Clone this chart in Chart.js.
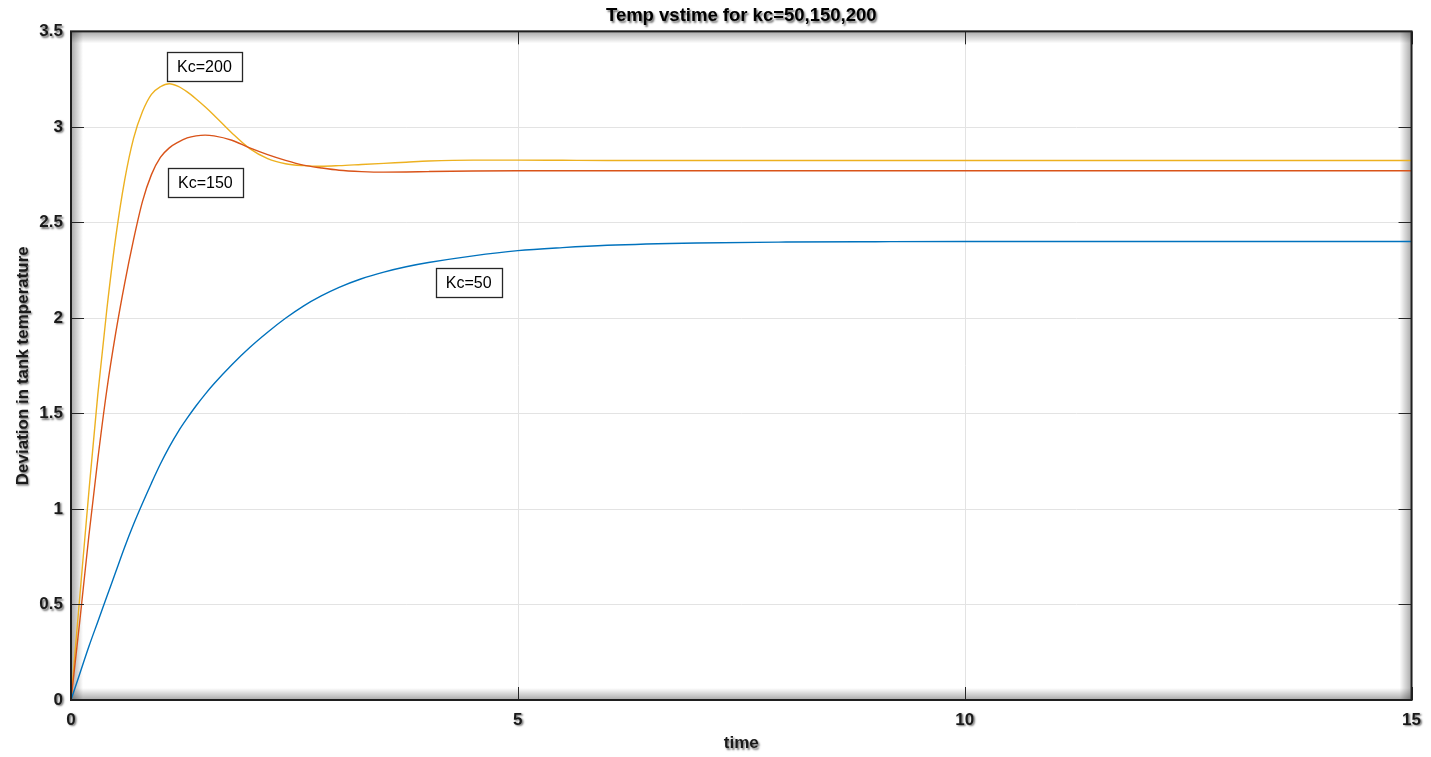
<!DOCTYPE html>
<html>
<head>
<meta charset="utf-8">
<script src="https://cdn.jsdelivr.net/npm/chart.js@4/dist/chart.umd.min.js"></script>
<style>
  html, body { margin: 0; padding: 0; background: #fff; }
  #wrap { width: 1431px; height: 757px; position: relative; }
</style>
</head>
<body>
<div id="wrap"><canvas id="c" width="1431" height="757"></canvas></div>
<script>
// ---- data ----
const times = [0, 0.1, 0.2, 0.3, 0.4, 0.5, 0.6, 0.7, 0.8, 0.9, 1.0, 1.1, 1.2, 1.3, 1.4, 1.5, 1.6, 1.8, 2.0, 2.2, 2.4, 2.6, 2.8, 3.0, 3.25, 3.5, 3.75, 4.0, 4.5, 5, 5.5, 6, 7, 8, 9, 10, 12, 15];
const kc50  = [0, 0.14, 0.28, 0.41, 0.54, 0.67, 0.80, 0.92, 1.03, 1.135, 1.235, 1.325, 1.405, 1.475, 1.54, 1.60, 1.655, 1.755, 1.845, 1.925, 1.998, 2.062, 2.115, 2.16, 2.205, 2.24, 2.268, 2.29, 2.325, 2.352, 2.368, 2.38, 2.392, 2.397, 2.399, 2.40, 2.40, 2.40];
const kc150 = [0, 0.42, 0.86, 1.26, 1.62, 1.92, 2.18, 2.41, 2.61, 2.75, 2.84, 2.89, 2.92, 2.942, 2.953, 2.957, 2.953, 2.93, 2.89, 2.855, 2.825, 2.80, 2.785, 2.773, 2.766, 2.763, 2.764, 2.766, 2.769, 2.770, 2.770, 2.770, 2.770, 2.770, 2.770, 2.770, 2.770, 2.770];
const kc200 = [0, 0.55, 1.09, 1.60, 2.04, 2.42, 2.72, 2.94, 3.08, 3.17, 3.21, 3.226, 3.212, 3.183, 3.146, 3.105, 3.061, 2.968, 2.886, 2.834, 2.807, 2.797, 2.794, 2.797, 2.803, 2.809, 2.815, 2.821, 2.826, 2.826, 2.825, 2.824, 2.824, 2.824, 2.824, 2.824, 2.824, 2.824];
const seriesNames = ['Kc=50', 'Kc=150', 'Kc=200'];
const xTicks = [0, 5, 10, 15];
const yTicks = [0, 0.5, 1, 1.5, 2, 2.5, 3, 3.5];
const yTickLabels = ['0', '0.5', '1', '1.5', '2', '2.5', '3', '3.5'];
const titleText = 'Temp vstime for kc=50,150,200';
const xTitle = 'time';
const yTitle = 'Deviation in tank temperature';
// text annotations: label, x value, y value (box centre)
const noteText = ['Kc=200', 'Kc=150', 'Kc=50'];
const noteX = [1.493, 1.504, 4.45];
const noteY = [3.314, 2.710, 2.183];

const colors = ['#0072BD', '#D95319', '#EDB120'];
const FONT = '"Liberation Sans", Arial, Helvetica, sans-serif';

const toXY = arr => times.map((t, i) => ({ x: t, y: arr[i] }));

const look = {
  id: 'look',
  beforeDraw(chart) {
    const ctx = chart.ctx;
    ctx.save();
    ctx.fillStyle = '#fff';
    ctx.fillRect(0, 0, chart.width, chart.height);
    ctx.restore();
    ctx.shadowColor = 'rgba(0,0,0,0.55)';
    ctx.shadowBlur = 2;
    ctx.shadowOffsetX = 1.5;
    ctx.shadowOffsetY = 1.5;
  },
  beforeDatasetsDraw(chart) {
    const ctx = chart.ctx;
    ctx.shadowColor = 'rgba(0,0,0,0)';
    ctx.shadowBlur = 0; ctx.shadowOffsetX = 0; ctx.shadowOffsetY = 0;
    const a = chart.chartArea;
    const xs = chart.scales.x, ys = chart.scales.y;
    ctx.save();
    // inner shadow
    const d = 12, c0 = 'rgba(0,0,0,0.34)', c1 = 'rgba(0,0,0,0)';
    let g;
    g = ctx.createLinearGradient(a.left, 0, a.left + d, 0); g.addColorStop(0, c0); g.addColorStop(1, c1);
    ctx.fillStyle = g; ctx.fillRect(a.left, a.top, d, a.bottom - a.top);
    g = ctx.createLinearGradient(a.right, 0, a.right - d, 0); g.addColorStop(0, c0); g.addColorStop(1, c1);
    ctx.fillStyle = g; ctx.fillRect(a.right - d, a.top, d, a.bottom - a.top);
    g = ctx.createLinearGradient(0, a.top, 0, a.top + d); g.addColorStop(0, c0); g.addColorStop(1, c1);
    ctx.fillStyle = g; ctx.fillRect(a.left, a.top, a.right - a.left, d);
    g = ctx.createLinearGradient(0, a.bottom, 0, a.bottom - d); g.addColorStop(0, c0); g.addColorStop(1, c1);
    ctx.fillStyle = g; ctx.fillRect(a.left, a.bottom - d, a.right - a.left, d);
    // grid
    ctx.strokeStyle = '#e3e3e3';
    ctx.lineWidth = 1;
    ctx.beginPath();
    yTicks.forEach(v => {
      const y = Math.round(ys.getPixelForValue(v)) + 0.5;
      if (v > ys.min && v < ys.max) { ctx.moveTo(a.left, y); ctx.lineTo(a.right, y); }
    });
    xTicks.forEach(v => {
      const x = Math.round(xs.getPixelForValue(v)) + 0.5;
      if (v > xs.min && v < xs.max) { ctx.moveTo(x, a.top); ctx.lineTo(x, a.bottom); }
    });
    ctx.stroke();
    ctx.restore();
  },
  afterDatasetsDraw(chart) {
    const ctx = chart.ctx;
    const a = chart.chartArea;
    const xs = chart.scales.x, ys = chart.scales.y;
    ctx.save();
    ctx.shadowColor = 'rgba(0,0,0,0)';
    // inward ticks
    const tl = 13;
    ctx.strokeStyle = '#262626';
    ctx.lineWidth = 1;
    ctx.beginPath();
    yTicks.forEach(v => {
      const y = Math.round(ys.getPixelForValue(v)) + 0.5;
      ctx.moveTo(a.left, y); ctx.lineTo(a.left + tl, y);
      ctx.moveTo(a.right, y); ctx.lineTo(a.right - tl, y);
    });
    xTicks.forEach(v => {
      const x = Math.round(xs.getPixelForValue(v)) + 0.5;
      ctx.moveTo(x, a.bottom); ctx.lineTo(x, a.bottom - tl);
      ctx.moveTo(x, a.top); ctx.lineTo(x, a.top + tl);
    });
    ctx.stroke();
    // frame
    ctx.lineWidth = 2;
    ctx.strokeStyle = '#1f1f1f';
    ctx.strokeRect(a.left, a.top, a.right - a.left, a.bottom - a.top);
    // annotations
    ctx.font = '16px ' + FONT;
    ctx.textAlign = 'center';
    ctx.textBaseline = 'middle';
    noteText.forEach((t, i) => {
      const cx = xs.getPixelForValue(noteX[i]);
      const cy = ys.getPixelForValue(noteY[i]);
      const w = ctx.measureText(t).width + 20;
      const h = 29;
      ctx.fillStyle = '#fff';
      ctx.fillRect(cx - w / 2, cy - h / 2, w, h);
      ctx.strokeStyle = '#262626';
      ctx.lineWidth = 1.3;
      ctx.strokeRect(Math.round(cx - w / 2) + 0.5, Math.round(cy - h / 2) + 0.5, Math.round(w), h);
      ctx.fillStyle = '#000';
      ctx.fillText(t, cx, cy + 1);
    });
    ctx.restore();
  }
};

new Chart(document.getElementById('c'), {
  type: 'line',
  data: {
    datasets: [kc50, kc150, kc200].map((arr, i) => ({
      label: seriesNames[i],
      data: toXY(arr),
      borderColor: colors[i],
      backgroundColor: colors[i],
      borderWidth: 1.4,
      pointRadius: 0,
      fill: false,
      cubicInterpolationMode: 'monotone'
    }))
  },
  options: {
    responsive: false,
    animation: false,
    events: [],
    layout: { padding: { top: 0, right: 19, bottom: 0, left: 0 } },
    plugins: {
      legend: { display: false },
      tooltip: { enabled: false },
      title: {
        display: true,
        fullSize: false,
        text: titleText,
        color: '#000',
        font: { family: FONT, size: 18.5, weight: 'bold', lineHeight: 1.1 },
        padding: { top: 6, bottom: 5 }
      }
    },
    scales: {
      x: {
        type: 'linear',
        min: 0, max: 15,
        grid: { display: false, drawTicks: false },
        border: { display: false },
        afterBuildTicks: s => { s.ticks = xTicks.map(v => ({ value: v })); },
        afterFit: s => { s.height = 57; },
        ticks: {
          color: '#1a1a1a',
          padding: 10,
          maxRotation: 0,
          font: { family: FONT, size: 17, weight: 'bold' },
          callback: v => String(v)
        },
        title: {
          display: true,
          text: xTitle,
          color: '#1a1a1a',
          font: { family: FONT, size: 17, weight: 'bold' },
          padding: { top: 0, bottom: 3 }
        }
      },
      y: {
        type: 'linear',
        min: 0, max: 3.5,
        grid: { display: false, drawTicks: false },
        border: { display: false },
        afterBuildTicks: s => { s.ticks = yTicks.map(v => ({ value: v })); },
        afterFit: s => { s.width = 71; },
        ticks: {
          color: '#1a1a1a',
          padding: 8,
          font: { family: FONT, size: 17, weight: 'bold' },
          callback: v => { const k = yTicks.indexOf(v); return k >= 0 ? yTickLabels[k] : ''; }
        },
        title: {
          display: true,
          text: yTitle,
          color: '#1a1a1a',
          font: { family: FONT, size: 17, weight: 'bold' },
          padding: { top: 13, bottom: 0 }
        }
      }
    }
  },
  plugins: [look]
});
</script>
</body>
</html>
